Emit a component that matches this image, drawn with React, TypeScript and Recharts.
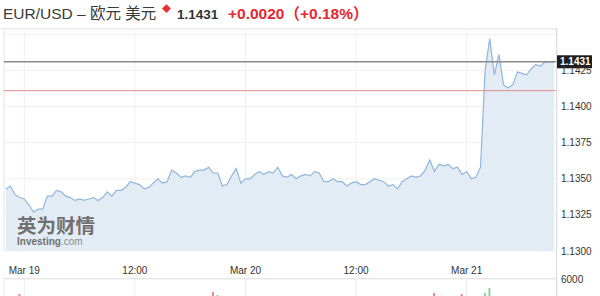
import { Area, AreaChart, Bar, BarChart, CartesianGrid, Cell, ReferenceLine, XAxis, YAxis } from "recharts";

// half-hour slots, hours from Mar 19 00:00
const hours = [
  -2, -1.5, -1, -0.5, 0, 0.5, 1, 1.5, 2, 2.5,
  3, 3.5, 4, 4.5, 5, 5.5, 6, 6.5, 7, 7.5,
  8, 8.5, 9, 9.5, 10, 10.5, 11, 11.5, 12, 12.5,
  13, 13.5, 14, 14.5, 15, 15.5, 16, 16.5, 17, 17.5,
  18, 18.5, 19, 19.5, 20, 20.5, 21, 21.5, 22, 22.5,
  23, 23.5, 24, 24.5, 25, 25.5, 26, 26.5, 27, 27.5,
  28, 28.5, 29, 29.5, 30, 30.5, 31, 31.5, 32, 32.5,
  33, 33.5, 34, 34.5, 35, 35.5, 36, 36.5, 37, 37.5,
  38, 38.5, 39, 39.5, 40, 40.5, 41, 41.5, 42, 42.5,
  43, 43.5, 44, 44.5, 45, 45.5, 46, 46.5, 47, 47.5,
  48, 48.5, 49, 49.5, 50, 50.5, 51, 51.5, 52, 52.5,
  53, 53.5, 54, 54.5, 55, 55.5, 56, 56.5, 57, 57.5,
];

const prices = [
  1.1343, 1.1345, 1.1339, 1.1337, 1.1336, 1.1332, 1.1327, 1.1329, 1.1329, 1.1338,
  1.1338, 1.1342, 1.1341, 1.1338, 1.1337, 1.1335, 1.1336, 1.1335, 1.1336, 1.1337,
  1.1335, 1.1337, 1.1341, 1.1338, 1.1342, 1.1342, 1.1344, 1.1348, 1.1347, 1.1346,
  1.1343, 1.1344, 1.1347, 1.135, 1.1347, 1.1348, 1.1356, 1.1354, 1.1351, 1.1352,
  1.1351, 1.1355, 1.1356, 1.1356, 1.1358, 1.1354, 1.1354, 1.1345, 1.1346, 1.1352,
  1.1357, 1.1347, 1.135, 1.135, 1.1353, 1.1355, 1.1353, 1.1355, 1.1354, 1.1358,
  1.1352, 1.1351, 1.1353, 1.135, 1.1352, 1.1353, 1.1352, 1.1355, 1.1354, 1.1348,
  1.1348, 1.135, 1.1348, 1.1348, 1.1345, 1.1347, 1.1348, 1.1346, 1.1346, 1.1348,
  1.135, 1.1349, 1.1348, 1.1345, 1.1346, 1.1343, 1.1348, 1.135, 1.1352, 1.1351,
  1.1352, 1.1356, 1.1363, 1.1355, 1.136, 1.1359, 1.136, 1.1357, 1.1358, 1.1353,
  1.1355, 1.135, 1.1351, 1.1358, 1.1425, 1.1447, 1.1422, 1.1436, 1.1415, 1.1413,
  1.1415, 1.1424, 1.1423, 1.1422, 1.1426, 1.1429, 1.1428, 1.1431, 1.1431, 1.1431,
];

const volumes = [
  2600, 3100, 3800, 4500, 3900, 3300, 3600, 2900, 2500, 2700,
  2400, 2800, 2300, 2100, 2500, 2200, 2000, 2300, 2600, 2400,
  2900, 3200, 3500, 3000, 3400, 2800, 3100, 3700, 3300, 2900,
  3000, 2700, 3200, 3600, 3100, 2900, 3900, 3400, 3000, 2800,
  2600, 3200, 3000, 2700, 3500, 4700, 4400, 3800, 3300, 3400,
  3600, 3900, 3000, 2500, 2200, 2400, 2100, 1900, 2000, 2300,
  2200, 1800, 2000, 1700, 1900, 2100, 2300, 2000, 2600, 2800,
  3000, 2700, 2500, 2900, 3200, 2800, 3100, 3300, 3000, 3400,
  3200, 3600, 3500, 3900, 3700, 4000, 3500, 3800, 3600, 3900,
  4100, 4000, 4200, 4600, 4100, 3900, 3800, 4000, 4200, 4500,
  3900, 4100, 4000, 4200, 4600, 5100, 4000, 4100, 3800, 3600,
  3400, 3200, 3500, 3100, 3000, 2800, 2700, 2500, 2300, 2000,
];

const timeTicks = [0, 12, 24, 36, 48];
const timeLabels = ["Mar 19", "12:00", "Mar 20", "12:00", "Mar 21"];
const priceTicks = [1.13, 1.1325, 1.135, 1.1375, 1.14, 1.1425, 1.145];
const volumeTicks = [6000];

const pairName = "EUR/USD – 欧元 美元";
const lastPrice = 1.1431;
const prevClose = 1.1411;
const changeText = "+0.0020";
const changePctText = "（+0.18%）";

const FONT = '"Liberation Sans", Arial, "Noto Sans CJK SC", sans-serif';
const X_DOMAIN: [number, number] = [-2.2, 57.8];

const priceData = hours.map((h, i) => ({ h, price: prices[i] }));
const volumeData = hours.map((h, i) => ({
  h,
  volume: volumes[i],
  up: i === 0 || prices[i] >= prices[i - 1],
}));

function LastPriceTag(props: any) {
  const { viewBox } = props;
  if (!viewBox) return null;
  const x = viewBox.x + viewBox.width - 1;
  const y = viewBox.y;
  return (
    <g>
      <rect x={x} y={y - 6.5} width={36} height={13} fill="#1e1e1e" />
      <text x={x + 4} y={y + 3.6} fill="#fff" fontSize={10} fontWeight="bold" fontFamily={FONT}>
        {lastPrice.toFixed(4)}
      </text>
    </g>
  );
}

const headStyle = { position: "absolute" as const, top: 5, lineHeight: "18px", whiteSpace: "nowrap" as const };

export default function App() {
  return (
    <div
      style={{
        position: "absolute",
        left: 0,
        top: 0,
        width: 600,
        height: 296,
        overflow: "hidden",
        background: "#fff",
        fontFamily: FONT,
      }}
    >
      <div style={{ ...headStyle, left: 3, fontSize: 15.5, color: "#3a3a3a" }}>{pairName}</div>
      <div style={{ ...headStyle, left: 162, top: 0, fontSize: 9, color: "#e5303a" }}>◆</div>
      <div style={{ ...headStyle, left: 177, top: 6, fontSize: 13.5, fontWeight: "bold", color: "#333" }}>
        {lastPrice.toFixed(4)}
      </div>
      <div style={{ ...headStyle, left: 228, fontSize: 15.5, fontWeight: "bold", color: "#e8262f" }}>
        {changeText}
        {changePctText}
      </div>
      <div style={{ position: "absolute", left: 0, top: 28, width: 558, height: 1, background: "#e8e8e8" }} />

      <div style={{ position: "absolute", left: 0, top: 0 }}>
        <AreaChart width={600} height={296} data={priceData} margin={{ top: 30, right: 0, bottom: 15, left: 4 }}>
          <CartesianGrid stroke="#f0f0f0" />
          <XAxis
            dataKey="h"
            type="number"
            domain={X_DOMAIN}
            ticks={timeTicks}
            tickFormatter={(v: number) => timeLabels[timeTicks.indexOf(v)] ?? ""}
            axisLine={false}
            tickLine={false}
            tickSize={0}
            tickMargin={16}
            height={30}
            interval={0}
            allowDataOverflow
            tick={{ fontSize: 10, fill: "#333", fontFamily: FONT }}
          />
          <YAxis
            orientation="right"
            domain={[1.13, 1.1453]}
            ticks={priceTicks}
            tickFormatter={(v: number) => (v >= 1.145 ? "" : v.toFixed(4))}
            width={43}
            axisLine={false}
            tickLine={false}
            tickSize={4}
            tickMargin={0}
            interval={0}
            allowDataOverflow
            tick={{ fontSize: 10, fill: "#333", fontFamily: FONT }}
          />
          <ReferenceLine x={X_DOMAIN[0]} stroke="#ececec" />
          <Area
            type="linear"
            dataKey="price"
            stroke="#8fb6de"
            strokeWidth={1.2}
            fill="#e3ecf4"
            fillOpacity={1}
            dot={false}
            activeDot={false}
            isAnimationActive={false}
          />
          <ReferenceLine y={prevClose} stroke="#e58a8a" strokeWidth={1} />
          <ReferenceLine y={lastPrice} stroke="#8a8a8a" strokeWidth={1.5} label={<LastPriceTag />} />
        </AreaChart>
      </div>

      <div style={{ position: "absolute", left: 0, top: 266 }}>
        <BarChart width={600} height={82} data={volumeData} margin={{ top: 13, right: 0, bottom: 9, left: 4 }}>
          <CartesianGrid stroke="#ececec" />
          <XAxis dataKey="h" type="number" domain={X_DOMAIN} ticks={timeTicks} hide />
          <YAxis
            orientation="right"
            domain={[0, 6000]}
            ticks={volumeTicks}
            width={43}
            axisLine={false}
            tickLine={false}
            tickSize={4}
            tickMargin={0}
            interval={0}
            tick={{ fontSize: 10, fill: "#333", fontFamily: FONT }}
          />
          <Bar dataKey="volume" barSize={2} isAnimationActive={false}>
            {volumeData.map((d, i) => (
              <Cell key={i} fill={d.up ? "#8fcf9c" : "#e08a86"} />
            ))}
          </Bar>
        </BarChart>
      </div>

      <div style={{ position: "absolute", left: 3, top: 278, width: 554, height: 1, background: "#e6e6e6" }} />
      <div style={{ position: "absolute", left: 556, top: 29, width: 1, height: 267, background: "#dcdcdc" }} />

      <div style={{ position: "absolute", left: 17, top: 215, color: "#707070", fontSize: 19.5, fontWeight: "bold", lineHeight: "20px", fontFamily: '"Noto Sans CJK SC", sans-serif' }}>
        英为财情
      </div>
      <div style={{ position: "absolute", left: 17, top: 237, color: "#707070", fontSize: 10, fontWeight: "bold", lineHeight: "10px" }}>
        Investing<span style={{ fontWeight: "normal", color: "#8a8a8a" }}>.com</span>
      </div>
    </div>
  );
}
